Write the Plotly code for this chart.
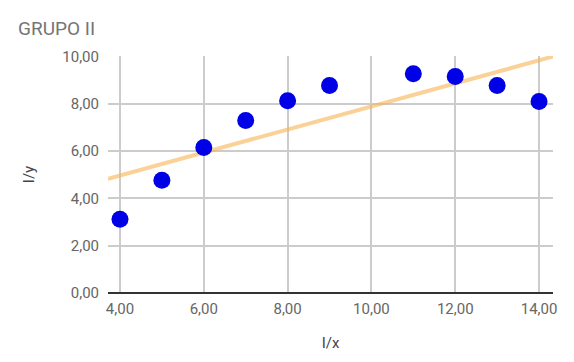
import numpy as np
import plotly.graph_objects as go

title = "GRUPO II"
x_label = "I/x"
y_label = "I/y"
x_vals = [4, 5, 6, 7, 8, 9, 11, 12, 13, 14]
y_vals = [3.12, 4.77, 6.16, 7.30, 8.14, 8.78, 9.28, 9.16, 8.78, 8.10]
x_ticks = [4, 6, 8, 10, 12, 14]
y_ticks = [0, 2, 4, 6, 8, 10]

x_range = [3.714, 14.333]
slope, intercept = np.polyfit(x_vals, y_vals, 1)
trend_x = x_range
trend_y = [slope * v + intercept for v in trend_x]

def fmt(v):
    return f"{v:.2f}".replace(".", ",")

fig = go.Figure()
fig.add_trace(go.Scatter(x=trend_x, y=trend_y, mode="lines",
                         line=dict(color="rgba(246,178,80,0.6)", width=4),
                         hoverinfo="skip", showlegend=False))
fig.add_trace(go.Scatter(x=x_vals, y=y_vals, mode="markers",
                         marker=dict(color="#0000e6", size=17, line=dict(width=0)),
                         showlegend=False))

font = "Roboto, Arial, sans-serif"
fig.update_layout(
    width=574, height=362,
    margin=dict(l=108, r=21, t=56, b=69),
    paper_bgcolor="white", plot_bgcolor="white",
    title=dict(text=title, x=18/574, xref="container", xanchor="left",
               y=1-28/362, yref="container", yanchor="middle",
               font=dict(family=font, size=19, color="#757575")),
    font=dict(family=font, size=15, color="#666666"),
)
fig.update_xaxes(range=x_range, tickvals=x_ticks, ticktext=[fmt(v) for v in x_ticks],
                 showgrid=True, gridcolor="#cccccc", gridwidth=1.5, zeroline=False,
                 showline=False, ticks="", ticklabelstandoff=5,
                 title=dict(text=x_label, font=dict(size=15, color="#444444"), standoff=20))
fig.update_yaxes(range=[0, 10.03], tickvals=y_ticks, ticktext=[fmt(v) for v in y_ticks],
                 showgrid=True, gridcolor="#cccccc", gridwidth=1.5, zeroline=True,
                 zerolinecolor="#333333", zerolinewidth=2, showline=False,
                 ticks="", ticklabelstandoff=8,
                 title=dict(text=y_label, font=dict(size=15, color="#444444"), standoff=24))
fig.write_html("out.html")
